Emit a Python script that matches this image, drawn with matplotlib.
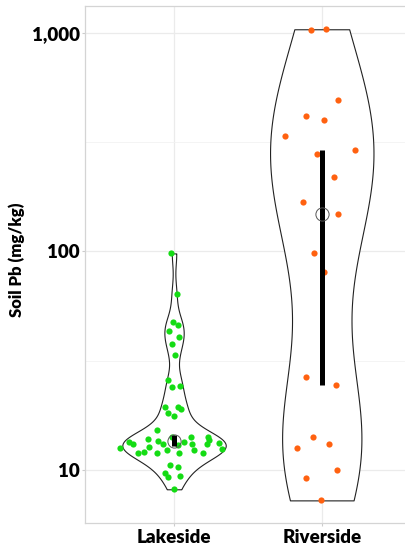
import numpy as np
import matplotlib
matplotlib.use("Agg")
import matplotlib.pyplot as plt

# soil lead (mg/kg) per site
groups = ["Lakeside", "Riverside"]
lakeside_pb = [98, 63.8, 47.5, 46.2, 43.4, 40.5, 37.6, 33.6, 25.8, 24.0,
               24.2, 19.4, 19.4, 19.0, 18.2, 17.7, 15.2, 13.5, 13.1, 12.6,
               11.9, 12.1, 13.8, 12.8, 12.0, 13.6, 13.2, 12.4, 14.2, 11.9,
               13.5, 14.2, 13.1, 12.4, 12.0, 13.1, 14.2, 13.7, 13.3, 12.5,
               13.0, 10.5, 10.3, 9.66, 9.31, 9.42, 8.16]
# horizontal jitter of each dot, in category units
lakeside_jitter = [-0.02, 0.018, -0.005, 0.025, -0.036, 0.034, -0.014, 0.005, -0.038, -0.011,
                   0.043, -0.063, 0.025, 0.047, -0.041, 0.002, -0.113, -0.305, -0.276, -0.366,
                   -0.242, -0.206, -0.178, -0.172, -0.117, -0.111, -0.074, -0.045, -0.014, 0.036,
                   0.068, 0.117, 0.124, 0.138, 0.199, 0.223, 0.232, 0.235, 0.305, 0.328,
                   0.029, -0.025, 0.025, -0.061, -0.038, 0.04, 0.002]
riverside_pb = [1032, 1040, 495, 417, 401, 336, 292, 280, 220, 168, 149,
                98.2, 80.8, 26.7, 24.5, 14.2, 12.6, 13.2, 9.97, 9.22, 7.26]
riverside_jitter = [-0.072, 0.029, 0.111, -0.106, 0.013, -0.249, 0.228, -0.034, 0.085, -0.127, 0.111,
                    -0.052, 0.013, -0.104, 0.097, -0.057, -0.169, 0.051, 0.106, -0.104, -0.003]

medians = [13.6, 149]
bar_low = [12.9, 24.6]
bar_high = [14.4, 291]

point_colors = ["#14DC14", "#FF6110"]


def violin_outline(values, n_grid=512):
    # gaussian kde on log10 values, nrd0 bandwidth, trimmed to data range
    logv = np.log10(np.asarray(values, dtype=float))
    n = len(logv)
    sd = logv.std(ddof=1)
    q75, q25 = np.percentile(logv, [75, 25])
    bw = 0.9 * min(sd, (q75 - q25) / 1.34) * n ** -0.2
    grid = np.linspace(logv.min(), logv.max(), n_grid)
    dens = np.exp(-0.5 * ((grid[:, None] - logv[None, :]) / bw) ** 2).sum(axis=1)
    return 10 ** grid, dens / dens.max()


plt.rcParams["font.family"] = ["Lato", "DejaVu Sans"]

fig = plt.figure(figsize=(4.06, 5.48), dpi=100)
ax = fig.add_axes([85.4 / 406, 25 / 548, 325 / 406, 517 / 548])

data = [lakeside_pb, riverside_pb]
jitters = [lakeside_jitter, riverside_jitter]
half_width = 0.35

for i, vals in enumerate(data):
    pos = i + 1
    y, d = violin_outline(vals)
    ax.fill_betweenx(y, pos - half_width * d, pos + half_width * d,
                     facecolor="white", edgecolor="#222222", linewidth=0.8, zorder=2)
    ax.scatter(pos + np.asarray(jitters[i]), vals, s=20, color=point_colors[i],
               linewidths=0, zorder=3)
    ax.plot([pos, pos], [bar_low[i], bar_high[i]], color="black", linewidth=3.6,
            solid_capstyle="butt", zorder=4)
    ax.plot(pos, medians[i], marker="o", markersize=9.5, markerfacecolor="none",
            markeredgecolor="#555555", markeredgewidth=0.7, zorder=5)

ax.set_yscale("log")
ax.set_ylim(5.72, 1329)
ax.set_xlim(0.4, 2.6)

ax.set_yticks([10, 100, 1000])
ax.set_yticklabels(["10", "100", "1,000"])
ax.set_yticks([10 ** 1.5, 10 ** 2.5], minor=True)
ax.yaxis.set_minor_formatter(plt.NullFormatter())
ax.set_xticks([1, 2])
ax.set_xticklabels(groups)

ax.grid(True, which="major", color="#ebebeb", linewidth=0.9, zorder=0)
ax.grid(True, which="minor", axis="y", color="#f2f2f2", linewidth=0.6, zorder=0)
ax.set_axisbelow(True)

for side in ["left", "top", "bottom", "right"]:
    ax.spines[side].set_color("#d4d4d4")
    ax.spines[side].set_linewidth(0.9)

ax.tick_params(axis="both", which="major", length=2.5, width=0.8, color="#cccccc",
               labelsize=13.5, pad=1.5)
ax.tick_params(axis="y", which="minor", length=0)
for lab in ax.get_xticklabels() + ax.get_yticklabels():
    lab.set_fontweight("heavy")

ax.set_ylabel("Soil Pb (mg/kg)", fontsize=12, fontweight="heavy")
ax.yaxis.set_label_coords(-0.186, 0.51)

fig.savefig("out.png", dpi=100)
